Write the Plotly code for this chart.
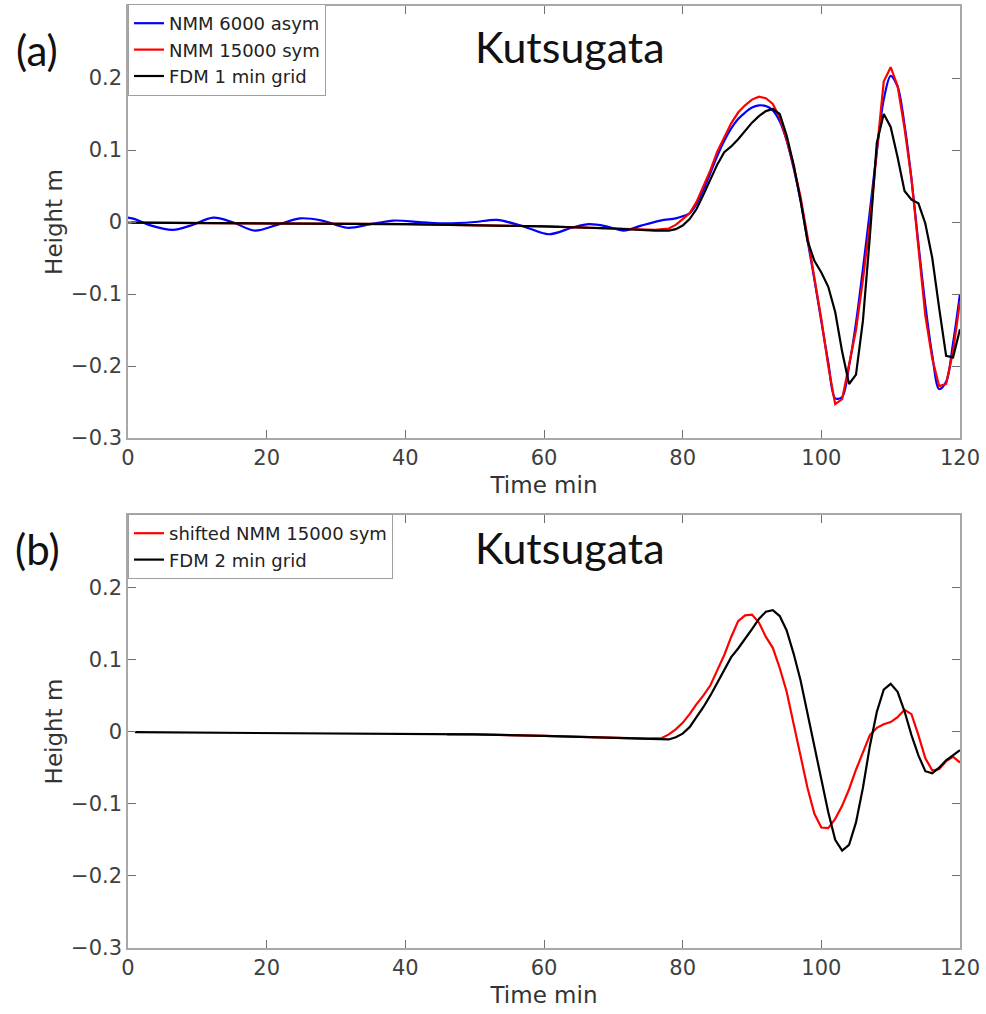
import plotly.graph_objects as go

# ---------------- Panel (a) data ----------------
t_a_blue = [0, 1, 3, 6.5, 9, 12.3, 15, 18.3, 21.5, 24.8, 28, 31.6, 35, 38.3, 42, 46, 50,
            53.2, 57, 60.7, 64, 66.5, 69, 71.5, 74, 76.8, 79, 80,
            81, 82, 83, 84, 85, 86, 87, 88, 89, 90, 91, 92, 93, 94, 95, 96, 97, 98, 99, 100,
            101, 102, 103, 104, 105, 106, 107, 108, 109, 110, 111, 112, 113, 114, 115, 116,
            117, 118, 119, 120]
h_a_blue = [0.006, 0.004, -0.004, -0.011, -0.005, 0.006, 0.000, -0.012, -0.004, 0.005, 0.002,
            -0.008, -0.003, 0.002, 0.000, -0.002, 0.000, 0.003, -0.006, -0.017, -0.008, -0.003,
            -0.006, -0.012, -0.005, 0.002, 0.005, 0.008,
            0.012, 0.025, 0.045, 0.068, 0.092, 0.113, 0.130, 0.143, 0.152, 0.159, 0.162, 0.161,
            0.155, 0.140, 0.113, 0.075, 0.030, -0.025, -0.080, -0.138, -0.195, -0.245, -0.243,
            -0.200, -0.140, -0.065, 0.015, 0.098, 0.170, 0.203, 0.188, 0.135, 0.060, -0.030,
            -0.115, -0.185, -0.232, -0.222, -0.168, -0.100]

t_a_red = [0, 20, 40, 60, 70, 76, 78, 79, 80,
           81, 82, 83, 84, 85, 86, 87, 88, 89, 90, 91, 92, 93, 94, 95, 96, 97, 98, 99, 100,
           101, 102, 103, 104, 105, 106, 107, 108, 109, 110, 111, 112, 113, 114, 115, 116,
           117, 118, 119, 120]
h_a_red = [-0.001, -0.002, -0.003, -0.006, -0.009, -0.011, -0.009, -0.004, 0.004,
           0.012, 0.028, 0.050, 0.072, 0.098, 0.118, 0.137, 0.152, 0.162, 0.170, 0.174, 0.172,
           0.164, 0.145, 0.115, 0.078, 0.035, -0.020, -0.077, -0.135, -0.200, -0.253, -0.246,
           -0.200, -0.150, -0.080, -0.001, 0.098, 0.195, 0.215, 0.189, 0.130, 0.060, -0.035,
           -0.130, -0.190, -0.228, -0.225, -0.180, -0.110]

t_a_black = [0.5, 20, 40, 60, 70, 76, 78, 79, 80,
             81, 82, 83, 84, 85, 86, 87, 88, 89, 90, 91, 92, 93, 94, 95, 96, 97, 98, 99, 100,
             101, 102, 103, 104, 105, 106, 107, 108, 109, 110, 111, 112, 113, 114, 115, 116,
             117, 118, 119, 120]
h_a_black = [-0.001, -0.002, -0.003, -0.006, -0.009, -0.012, -0.012, -0.010, -0.005,
             0.004, 0.018, 0.038, 0.058, 0.080, 0.097, 0.105, 0.115, 0.127, 0.138, 0.147, 0.154,
             0.157, 0.150, 0.120, 0.080, 0.030, -0.026, -0.054, -0.070, -0.090, -0.125, -0.180,
             -0.225, -0.212, -0.137, -0.020, 0.110, 0.150, 0.132, 0.090, 0.043, 0.031, 0.026,
             -0.002, -0.050, -0.120, -0.186, -0.188, -0.149]

# ---------------- Panel (b) data ----------------
t_b_red = [46, 50, 60, 70, 75, 77, 78, 79, 80,
           81, 82, 83, 84, 85, 86, 87, 88, 89, 90, 91, 92, 93, 94, 95, 96, 97, 98, 99, 100,
           101, 102, 103, 104, 105, 106, 107, 108, 109, 110, 111, 112, 113, 114, 115, 116,
           117, 118, 119, 120]
h_b_red = [-0.004, -0.004, -0.006, -0.008, -0.010, -0.009, -0.004, 0.003, 0.012,
           0.024, 0.038, 0.050, 0.064, 0.085, 0.106, 0.131, 0.153, 0.161, 0.162, 0.151, 0.131,
           0.116, 0.088, 0.055, 0.012, -0.035, -0.078, -0.114, -0.133, -0.134, -0.121, -0.103,
           -0.080, -0.053, -0.028, -0.005, 0.005, 0.010, 0.013, 0.020, 0.030, 0.024, -0.005,
           -0.037, -0.054, -0.052, -0.041, -0.035, -0.043]

t_b_black = [1, 20, 40, 50, 60, 70, 76, 78, 79, 80,
             81, 82, 83, 84, 85, 86, 87, 88, 89, 90, 91, 92, 93, 94, 95, 96, 97, 98, 99, 100,
             101, 102, 103, 104, 105, 106, 107, 108, 109, 110, 111, 112, 113, 114, 115, 116,
             117, 118, 119, 120]
h_b_black = [-0.001, -0.002, -0.003, -0.004, -0.006, -0.009, -0.011, -0.011, -0.008, -0.003,
             0.006, 0.020, 0.034, 0.050, 0.068, 0.087, 0.103, 0.115, 0.128, 0.142, 0.156, 0.166,
             0.168, 0.160, 0.140, 0.108, 0.071, 0.025, -0.021, -0.068, -0.112, -0.150, -0.165,
             -0.157, -0.126, -0.078, -0.020, 0.027, 0.058, 0.066, 0.055, 0.028, -0.005, -0.033,
             -0.055, -0.058, -0.050, -0.040, -0.033, -0.026]

x_ticks = [0, 20, 40, 60, 80, 100, 120]
y_ticks = [-0.3, -0.2, -0.1, 0, 0.1, 0.2]
y_tick_text = ["\u22120.3", "\u22120.2", "\u22120.1", "0", "0.1", "0.2"]

# ---------------- Layout helpers ----------------
W, H = 986, 1014
ML, MR, MT, MB = 128, 26, 6, 66
PW, PH = W - ML - MR, H - MT - MB


def px(xp):
    return (xp - ML) / PW


def py(yp):
    return (H - MB - yp) / PH


LW = 2.2
fig = go.Figure()
fig.add_trace(go.Scatter(x=t_a_blue, y=h_a_blue, mode="lines", name="NMM 6000 asym",
                         line=dict(color="#0000ff", width=LW, shape="spline", smoothing=0.9),
                         xaxis="x", yaxis="y", legend="legend"))
fig.add_trace(go.Scatter(x=t_a_red, y=h_a_red, mode="lines", name="NMM 15000 sym",
                         line=dict(color="#ff0000", width=LW), xaxis="x", yaxis="y", legend="legend"))
fig.add_trace(go.Scatter(x=t_a_black, y=h_a_black, mode="lines", name="FDM 1 min grid",
                         line=dict(color="#000000", width=LW), xaxis="x", yaxis="y", legend="legend"))
fig.add_trace(go.Scatter(x=t_b_red, y=h_b_red, mode="lines", name="shifted NMM 15000 sym",
                         line=dict(color="#ff0000", width=LW), xaxis="x2", yaxis="y2", legend="legend2"))
fig.add_trace(go.Scatter(x=t_b_black, y=h_b_black, mode="lines", name="FDM 2 min grid",
                         line=dict(color="#000000", width=LW), xaxis="x2", yaxis="y2", legend="legend2"))

tickfont = dict(family="DejaVu Sans", size=21, color="#404040")
titlefont = dict(family="DejaVu Sans", size=23, color="#333333")
axis_common = dict(showgrid=False, zeroline=False, showline=True, linecolor="#a8a8a8",
                   linewidth=1.5, mirror="allticks", ticks="inside", ticklen=8,
                   tickcolor="#707070", tickwidth=1, tickfont=tickfont, automargin=False)

xa = dict(range=[0, 120], tickvals=x_ticks, title=dict(text="Time min", font=titlefont, standoff=8),
          **axis_common)
ya = dict(range=[-0.3, 0.3], tickvals=y_ticks, ticktext=y_tick_text,
          title=dict(text="Height m", font=titlefont, standoff=2), **axis_common)

legend_common = dict(xanchor="left", yanchor="top", bgcolor="white", bordercolor="#a0a0a0",
                     borderwidth=1, font=dict(family="DejaVu Sans", size=18, color="#222222"),
                     itemwidth=30, tracegroupgap=0)

label_font = dict(family="Lato", size=42, color="#111111")
title_font = dict(family="Lato", size=43, color="#111111")

fig.update_layout(
    width=W, height=H, paper_bgcolor="white", plot_bgcolor="white",
    margin=dict(l=ML, r=MR, t=MT, b=MB, autoexpand=False),
    xaxis=dict(domain=[0, 1], anchor="y", **xa),
    yaxis=dict(domain=[py(438), 1], anchor="x", **ya),
    xaxis2=dict(domain=[0, 1], anchor="y2", **xa),
    yaxis2=dict(domain=[0, py(515)], anchor="x2", **ya),
    legend=dict(x=0, y=py(4), **legend_common),
    legend2=dict(x=0, y=py(514), **legend_common),
    showlegend=True,
    annotations=[
        dict(text="(a)", x=px(37), y=py(50), xref="paper", yref="paper", showarrow=False,
             xanchor="center", yanchor="middle", font=label_font),
        dict(text="(b)", x=px(37), y=py(549), xref="paper", yref="paper", showarrow=False,
             xanchor="center", yanchor="middle", font=label_font),
        dict(text="Kutsugata", x=px(570), y=py(47), xref="paper", yref="paper", showarrow=False,
             xanchor="center", yanchor="middle", font=title_font),
        dict(text="Kutsugata", x=px(570), y=py(547), xref="paper", yref="paper", showarrow=False,
             xanchor="center", yanchor="middle", font=title_font),
    ],
)

fig.write_html("out.html",
               config={"displayModeBar": False},
               post_script="document.body.style.margin='0';document.body.style.padding='0';"
                           "document.documentElement.style.overflow='hidden';")
